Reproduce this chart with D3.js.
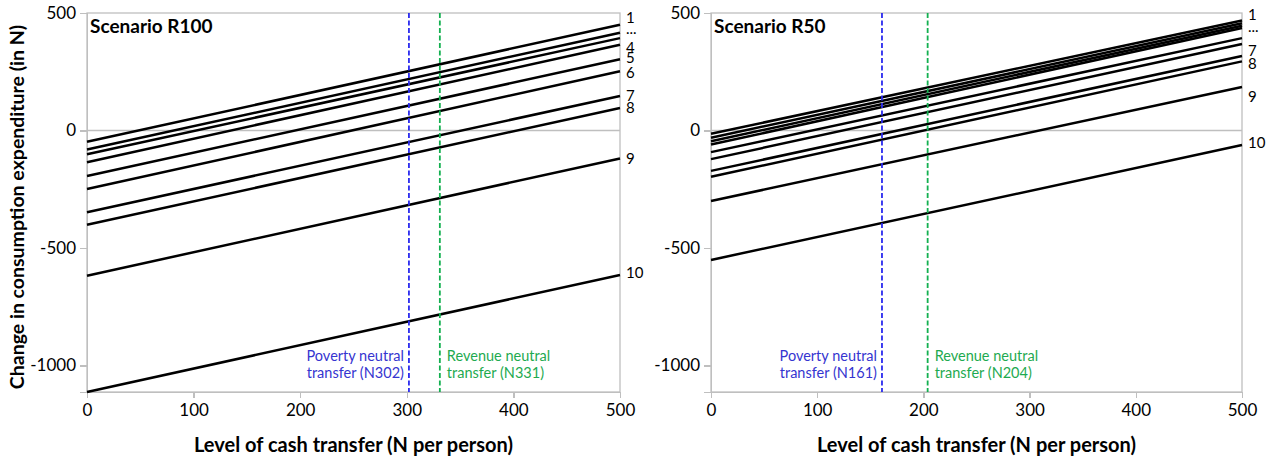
<!DOCTYPE html>
<html>
<head>
<meta charset="UTF-8">
<title>Cash transfer scenarios</title>
<script src="https://d3js.org/d3.v7.min.js"></script>
<style type="text/css">
	body { margin: 0; background: #fff; }
	text { font-family: Lato, "Open Sans", sans-serif; }
	.axis path, .axis line { stroke: #bfbfbf; stroke-width: 1.3; shape-rendering: crispEdges; }
	.axis text { font-size: 17px; fill: #000; }
	.series { fill: none; stroke: #000; stroke-width: 2.5; }
</style>
</head>
<body>
<svg id="chart" width="1271" height="459"></svg>
<script type="text/javascript">

//=====DATA=======================================================================
var transferLevels = [0, 500];                 // x where each line was read
var xTicks = [0, 100, 200, 300, 400, 500];
var yTicks = [-1000, -500, 0, 500];

var scenarioNames = ["Scenario R100", "Scenario R50"];

// change in consumption (N) for deciles 1..10, at transfer 0 and 500
var r100AtZero = [-48, -81, -101, -135, -194, -249, -348, -401, -618, -1113];
var r100AtMax  = [450, 416, 393, 365, 303, 252, 147, 96, -119, -615];
var r50AtZero  = [-14, -31, -46, -60, -92, -122, -172, -197, -300, -551];
var r50AtMax   = [468, 456, 446, 436, 393, 368, 317, 294, 185, -62];

var r100Labels = ["1", "...", "", "4", "5", "6", "7", "8", "9", "10"];
var r50Labels  = ["1", "...", "", "", "", "", "7", "8", "9", "10"];

var povertyTransfer = [302, 161];
var revenueTransfer = [331, 204];

//=====LAYOUT=====================================================================
var svg = d3.select("#chart");
var plotTop = 13, plotBottom = 392;
var panels = [
	{ x0: 87,  x1: 620,  name: scenarioNames[0], lo: r100AtZero, hi: r100AtMax, labels: r100Labels,
	  poverty: povertyTransfer[0], revenue: revenueTransfer[0],
	  nudge: [-7, -4, 0, 3, -2, 1, 0, 0, 0, -2] },
	{ x0: 711, x1: 1242, name: scenarioNames[1], lo: r50AtZero, hi: r50AtMax, labels: r50Labels,
	  poverty: povertyTransfer[1], revenue: revenueTransfer[1],
	  nudge: [-6, 3, 0, 0, 0, 0, -5, 2, 10, -2] }
];

var y = d3.scaleLinear().domain([-1113, 500]).range([plotBottom, plotTop]);

// y title (shared, left)
svg.append("text")
	.attr("transform", "translate(24,207) rotate(-90)")
	.attr("text-anchor", "middle")
	.style("font-size", "19.5px")
	.style("font-weight", "bold")
	.text("Change in consumption expenditure (in N)");

panels.forEach(function(p) {
	var x = d3.scaleLinear().domain([0, 500]).range([p.x0, p.x1]);
	var g = svg.append("g");

	// plot frame + zero line
	g.append("rect")
		.attr("x", p.x0).attr("y", plotTop)
		.attr("width", p.x1 - p.x0).attr("height", plotBottom - plotTop)
		.attr("fill", "none").attr("stroke", "#bfbfbf").attr("stroke-width", 1.3);
	g.append("line")
		.attr("x1", p.x0).attr("x2", p.x1)
		.attr("y1", y(0)).attr("y2", y(0))
		.attr("stroke", "#bfbfbf").attr("stroke-width", 1.3);

	//====Axes================================================================
	g.append("g")
		.attr("class", "axis")
		.attr("transform", "translate(0," + plotBottom + ")")
		.call(d3.axisBottom(x).tickValues(xTicks).tickSize(6).tickPadding(6)
			.tickFormat(function(d) { return String(d); }));
	g.append("g")
		.attr("class", "axis")
		.attr("transform", "translate(" + p.x0 + ",0)")
		.call(d3.axisLeft(y).tickValues(yTicks).tickSize(7).tickPadding(4)
			.tickFormat(function(d) { return String(d); }));

	//====Lines==============================================================
	var line = d3.line()
		.x(function(d) { return x(d[0]); })
		.y(function(d) { return y(d[1]); });
	p.lo.forEach(function(v, i) {
		var pts = [[transferLevels[0], v], [transferLevels[1], p.hi[i]]];
		g.append("path").attr("class", "series").attr("d", line(pts));
		if (p.labels[i]) {
			g.append("text")
				.attr("x", p.x1 + 6)
				.attr("y", y(p.hi[i]) + p.nudge[i])
				.attr("dy", "0.35em")
				.style("font-size", "15px")
				.text(p.labels[i]);
		}
	});

	//====Reference transfers=================================================
	var refs = [
		{ v: p.poverty, color: "#2b2bef", text: "#3535d0", name: "Poverty neutral", side: -1 },
		{ v: p.revenue, color: "#13b050", text: "#1eaa50", name: "Revenue neutral", side: 1 }
	];
	refs.forEach(function(r) {
		g.append("line")
			.attr("x1", x(r.v)).attr("x2", x(r.v))
			.attr("y1", plotTop).attr("y2", plotBottom)
			.attr("stroke", r.color).attr("stroke-width", 1.8)
			.attr("stroke-dasharray", "5,2.5");
		var tx = x(r.v) + (r.side < 0 ? -5 : 7);
		var t = g.append("text")
			.attr("text-anchor", r.side < 0 ? "end" : "start")
			.style("font-size", "14.5px")
			.attr("fill", r.text);
		t.append("tspan").attr("x", tx).attr("y", 361).text(r.name);
		t.append("tspan").attr("x", tx).attr("y", 378).text("transfer (N" + r.v + ")");
	});

	// panel title and x title
	g.append("text")
		.attr("x", p.x0 + 3).attr("y", 33)
		.style("font-size", "19px").style("font-weight", "bold")
		.text(p.name);
	g.append("text")
		.attr("x", (p.x0 + p.x1) / 2).attr("y", 452)
		.attr("text-anchor", "middle")
		.style("font-size", "20px").style("font-weight", "bold")
		.text("Level of cash transfer (N per person)");
});

</script>
</body>
</html>
